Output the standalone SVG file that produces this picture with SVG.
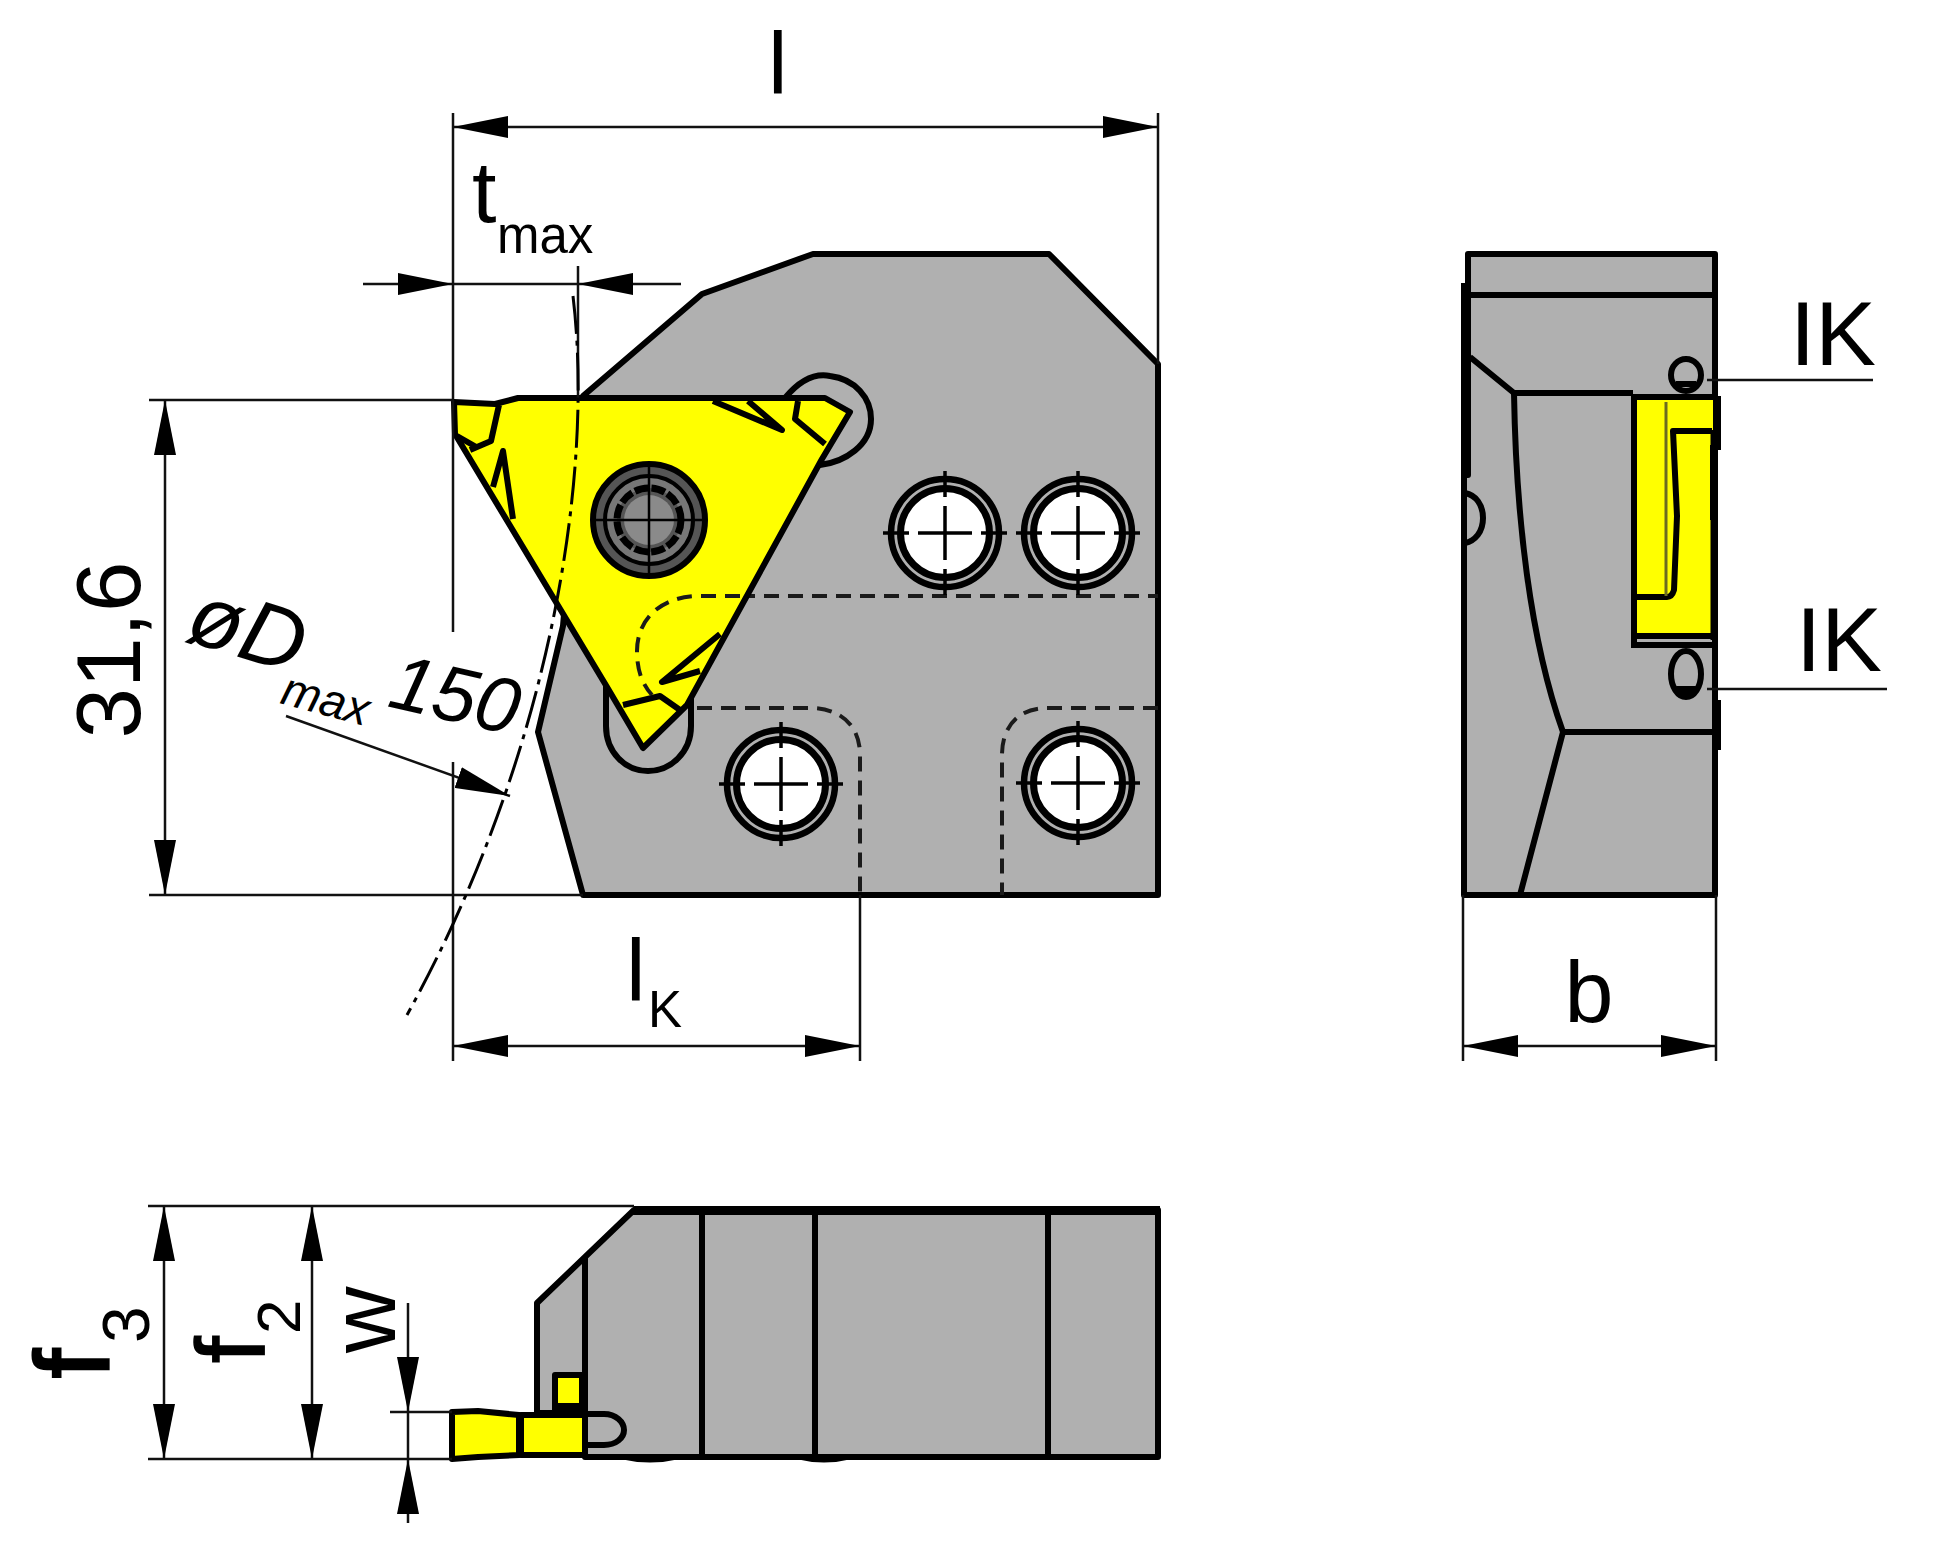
<svg xmlns="http://www.w3.org/2000/svg" width="1934" height="1559" viewBox="0 0 1934 1559">
<style>
text{font-family:"Liberation Sans",Arial,sans-serif;fill:#000}
.b{font-size:88px}.s{font-size:51px}
.o{fill:#b0b0b0;stroke:#000;stroke-width:6;stroke-linejoin:round}
.y{fill:#ff0;stroke:#000;stroke-width:6;stroke-linejoin:round}
.l{fill:none;stroke:#000;stroke-width:6;stroke-linejoin:round}
.h{fill:none;stroke:#1a1a1a;stroke-width:4;stroke-dasharray:15 9}
.d{fill:none;stroke:#111;stroke-width:2.5}
.a{fill:none;stroke:#111;stroke-width:2.5;marker-end:url(#arr)}
.aa{fill:none;stroke:#111;stroke-width:2.5;marker-start:url(#arrs);marker-end:url(#arr)}
.cl{fill:none;stroke:#000;stroke-width:3;stroke-dasharray:38 7 5 7}
</style>
<defs>
<marker id="arr" markerUnits="userSpaceOnUse" markerWidth="56" markerHeight="22" viewBox="0 0 56 22" refX="55" refY="11" orient="auto"><path d="M0 0L55 11L0 22z" fill="#000"/></marker>
<marker id="arrs" markerUnits="userSpaceOnUse" markerWidth="56" markerHeight="22" viewBox="0 0 56 22" refX="1" refY="11" orient="auto"><path d="M56 0L1 11L56 22z" fill="#000"/></marker>
<g id="bolt">
<circle r="54" fill="#b0b0b0" stroke="#000" stroke-width="6.5"/>
<circle r="44.5" fill="#fff" stroke="#000" stroke-width="7"/>
<path d="M-62 0H-36M-27 0H27M36 0H62M0-62V-36M0-27V27M0 36V62" fill="none" stroke="#000" stroke-width="3.5"/>
</g>
</defs>

<g id="holder-main">
<path class="o" d="M583 396L702 294L813 254H1049L1158 364V895H583L538 732L563 626L583 396z"/>
<path class="o" d="M785 398C800 380 815 373 830 376C855 379 871 398 871 419C871 445 845 462 820 465z"/>
<path class="o" d="M606 680V726C606 752 625 771 648 771C671 771 691 752 691 726V690z"/>
<path class="h" d="M740 596H1158M697 708H810C840 708 860 725 860 755V895M1158 708H1047C1020 708 1002 725 1002 755V895"/>
</g>

<g id="insert-top">
<path class="y" d="M454 402L495 404L518 398H825L850 412L822 459L687 705L643 748L607 687L455 434z"/>
<path class="l" d="M499 405L491 441L470 450M478 448L457 436M493 487L503 451L513 519M713 401L782 430L748 401M798 401L795 419L825 444M720 634L662 682L700 671M623 705L660 696L680 710"/>
<path class="h" d="M740 596H700C660 596 637 620 637 651C637 672 643 685 652 695"/>
</g>

<g id="screw">
<circle cx="649" cy="520" r="56" fill="#555" stroke="#000" stroke-width="6"/>
<circle cx="649" cy="520" r="44" fill="#777" stroke="#000" stroke-width="4"/>
<circle cx="649" cy="520" r="32" fill="#555" stroke="#000" stroke-width="7" stroke-dasharray="14 3"/>
<circle cx="649" cy="520" r="25" fill="#8a8a8a"/>
<path d="M592 520H706M649 463V577" stroke="#000" stroke-width="2.5"/>
</g>

<use id="bolt-1" href="#bolt" x="945" y="533"/>
<use id="bolt-2" href="#bolt" x="1078" y="533"/>
<use id="bolt-3" href="#bolt" x="781" y="784"/>
<use id="bolt-4" href="#bolt" x="1078" y="783"/>

<g id="holder-side">
<path class="o" d="M1468 254H1715V895H1464V475H1468z"/>
<path class="l" d="M1468 295H1715M1470 357L1514 393H1633M1514 393C1516 516 1530 640 1563 732H1715M1563 732L1520 895"/>
<path d="M1461 283H1471V475H1461z" fill="#000"/>
<path class="l" d="M1465 493C1476 495 1483 505 1483 518C1483 532 1475 541 1465 543"/>
<path d="M1637 397H1713V636H1637z" fill="#ff0"/>
<path d="M1634 396V645H1713" fill="none" stroke="#000" stroke-width="6"/>
<path class="l" stroke-width="4" d="M1637 597H1667Q1672 597 1674 590L1677 516L1673 431H1712"/>
<path class="l" stroke-width="4" d="M1636 636H1712"/>
<path fill="none" stroke="#6b6b20" stroke-width="3" d="M1666 402V596"/>
<path class="l" d="M1633 397H1718"/>
<path class="l" d="M1718 396V450M1713 445V520"/>
<path class="l" d="M1718 700V750"/>
<path d="M1712 430V640" stroke="#000" stroke-width="3"/>
<ellipse cx="1686" cy="375" rx="15" ry="16" fill="#b0b0b0" stroke="#000" stroke-width="6"/>
<path d="M1676 384H1696" stroke="#000" stroke-width="6"/>
<ellipse cx="1686" cy="674" rx="15" ry="23" fill="#b0b0b0" stroke="#000" stroke-width="6"/>
<path d="M1676 686H1696L1692 696H1680z" fill="#000"/>
</g>

<g id="holder-bottom">
<path class="o" d="M634 1210H1158V1457H585V1413H537V1303z"/>
<path d="M634 1206H1160V1215H630z" fill="#000"/>
<path class="l" d="M585 1258V1457M702 1212V1457M815 1212V1457M1048 1212V1457"/>
<path d="M620 1459Q650 1466 680 1459zM796 1459Q824 1466 852 1459z" fill="#000"/>
<path class="o" d="M585 1414H604C616 1414 624 1422 624 1430C624 1438 616 1445 604 1445H585"/>
</g>
<g id="insert-bottom">
<rect class="y" x="555" y="1375" width="27" height="37"/>
<path class="l" stroke-width="2" d="M558 1406H580"/>
<path class="y" d="M452 1412L478 1411L519 1415V1455L478 1457L452 1459z"/>
<rect class="y" x="521" y="1415" width="64" height="40"/>
</g>

<g id="connectors">
<path class="d" d="M453 113V632M453 762V1061M1158 113V364M149 400H453M149 895H583M860 895V1061M1463 895V1061M1716 895V1061M578 266V400"/>
<path class="aa" d="M453 127H1158"/>
<path class="aa" d="M165 400V895"/>
<path class="aa" d="M453 1046H860"/>
<path class="aa" d="M1463 1046H1716"/>
<path class="d" d="M453 284H578"/>
<path class="a" d="M363 284H453"/>
<path class="a" d="M681 284H578"/>
<path class="a" d="M286 716L510 796"/>
<path class="cl" d="M573 296C595 480 548 760 407 1015"/>
<path class="d" d="M1707 380H1873M1707 689H1887"/>
<path class="d" d="M148 1206H634M148 1459H452M390 1412H452"/>
<path class="aa" d="M164 1206V1459"/>
<path class="aa" d="M312 1206V1459"/>
<path class="a" d="M408 1303V1412"/>
<path class="a" d="M408 1523V1459"/>
<path class="d" d="M408 1412V1459"/>
</g>

<g id="labels">
<text class="b" x="768" y="93">l</text>
<text class="b" x="472" y="222">t</text>
<text class="s" x="497" y="253">max</text>
<text font-size="91" transform="translate(140 650) rotate(-90)" text-anchor="middle">31,6</text>
<text class="b" font-style="italic" transform="translate(183 640) rotate(17)">øD</text>
<text font-size="47" font-style="italic" transform="translate(279 703) rotate(15)">max</text>
<text font-size="78" font-style="italic" transform="translate(386 706) rotate(13)">150</text>
<text class="b" x="626" y="1000">l</text>
<text class="s" x="648" y="1027">K</text>
<text class="b" x="1589" y="1022" text-anchor="middle">b</text>
<text font-size="91" x="1790" y="365">IK</text>
<text font-size="91" x="1796" y="671">IK</text>
<text font-size="104" stroke="#000" stroke-width="3" transform="translate(108 1378) rotate(-90)">f</text>
<text font-size="66" transform="translate(149 1343) rotate(-90)">3</text>
<text font-size="96" stroke="#000" stroke-width="1.5" transform="translate(264 1363) rotate(-90)">f</text>
<text font-size="62" transform="translate(300 1334) rotate(-90)">2</text>
<text font-size="92" transform="translate(395 1353) rotate(-90)">w</text>
</g>
</svg>
